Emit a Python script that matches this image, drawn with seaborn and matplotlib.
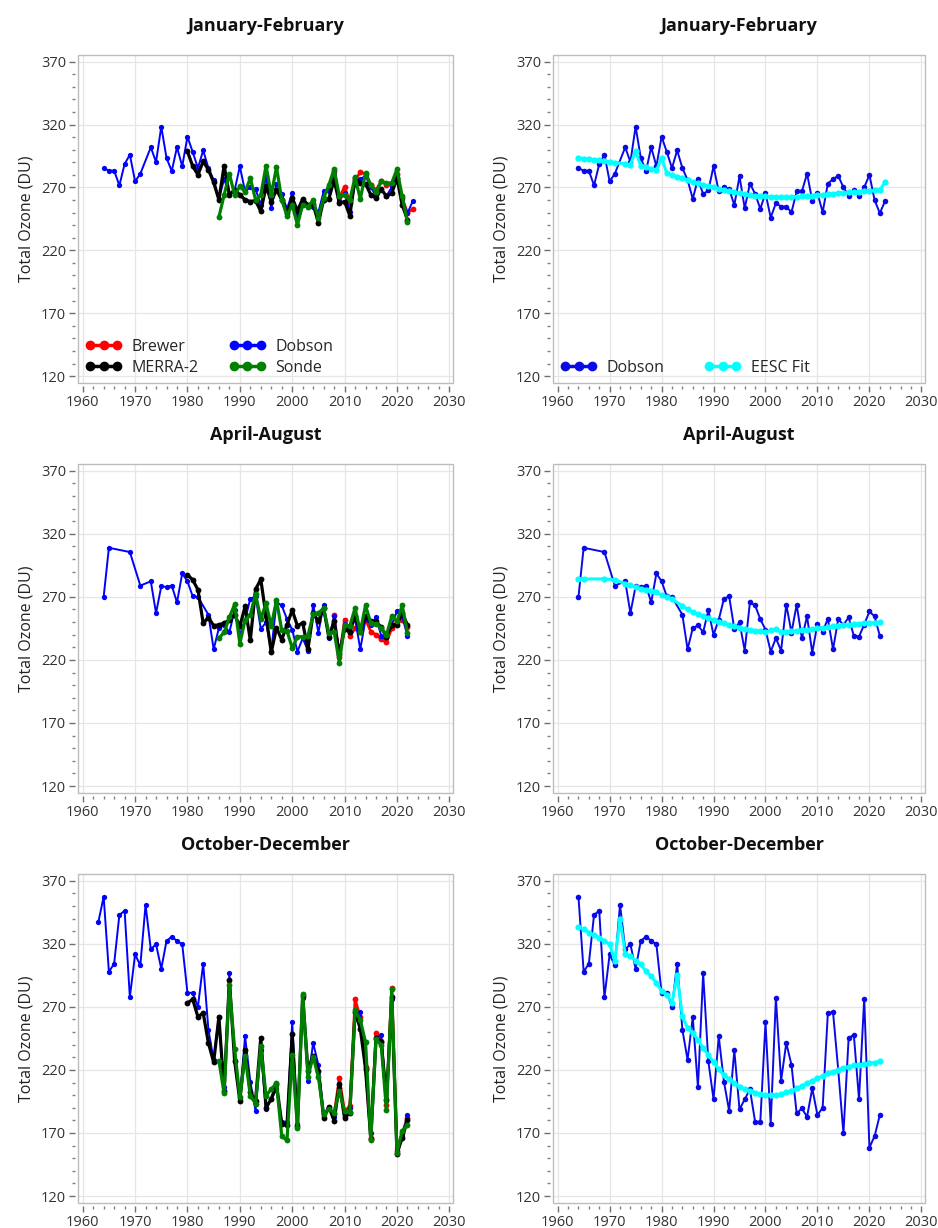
import matplotlib
matplotlib.use("Agg")
import matplotlib.pyplot as plt
from matplotlib.lines import Line2D
from matplotlib.patches import Rectangle
from matplotlib.ticker import MultipleLocator
import seaborn as sns

# ---------------- DATA ----------------
# January-February
jf_dobson_years = list(range(1964, 1972)) + list(range(1973, 2024))
jf_dobson = [285.4, 283.3, 283.3, 271.6, 288.6, 296.0, 274.8, 280.9,
             301.9, 290.2, 318.4, 293.4, 283.0, 302.0, 286.8, 310.4, 298.2, 285.4,
             299.5, 285.4, 276.0, 261.0, 276.6, 264.7, 267.6, 286.8, 266.8, 270.0,
             268.7, 256.0, 278.8, 253.5, 273.0, 265.0, 253.0, 265.5, 246.0, 257.5,
             254.8, 254.8, 250.3, 266.8, 266.8, 281.0, 259.6, 265.5, 250.3, 273.0,
             276.6, 279.3, 270.0, 263.4, 268.0, 263.4, 270.0, 280.0, 260.0, 249.5, 259.0]
jf_eesc = [293.5, 293.0, 292.6, 292.2, 291.6, 291.0, 290.4, 289.8,
           288.8, 288.2, 299.0, 286.8, 286.0, 284.8, 283.5, 293.4, 281.4, 280.0,
           278.6, 277.2, 275.8, 274.4, 273.2, 272.0, 271.0, 270.0, 269.0, 268.0,
           267.0, 266.0, 265.2, 264.5, 264.0, 263.5, 263.0, 262.8, 262.5, 262.3,
           262.2, 262.2, 262.3, 262.5, 262.8, 263.2, 263.5, 264.0, 264.3, 264.7,
           265.0, 265.3, 265.6, 266.0, 266.3, 266.6, 267.0, 267.3, 267.6, 268.0, 274.0]
jf_merra_years = list(range(1980, 2023))
jf_merra = [298.7, 286.8, 280.1, 290.7, 284.1, 274.0, 260.2, 287.3, 264.1, 268.1,
            264.1, 260.2, 258.8, 259.6, 250.9, 270.8, 258.8, 268.1, 260.2, 250.0,
            261.5, 251.6, 260.7, 256.2, 256.5, 242.0, 260.2, 261.0, 276.0, 257.5,
            258.8, 247.4, 277.4, 273.5, 273.0, 264.0, 261.5, 268.7, 262.8, 265.5,
            277.4, 256.2, 244.2]
jf_sonde_years = list(range(1986, 2023))
jf_sonde = [246.3, 264.0, 280.9, 264.1, 270.8, 266.5, 277.4, 260.2, 264.0, 287.3,
            264.1, 286.2, 260.2, 247.4, 256.2, 240.2, 256.2, 254.6, 260.0, 245.5,
            261.5, 272.0, 284.6, 262.8, 264.0, 260.0, 278.2, 260.7, 281.4, 272.0,
            266.0, 274.8, 273.5, 273.5, 284.6, 262.8, 242.9]
jf_brewer_years = list(range(2008, 2024))
jf_brewer = [283.0, 262.0, 270.5, 258.0, 276.0, 282.0, 281.0, 272.0, 268.0, 275.0,
             272.0, 272.0, 281.0, 261.5, 250.0, 252.7]

# April-August
aa_dobson_years = [1964, 1965, 1969, 1971] + list(range(1973, 1983)) + list(range(1984, 2023))
aa_dobson = [270.0, 308.9, 305.5, 278.9,
             282.3, 257.1, 278.4, 277.8, 278.9, 265.6, 288.5, 282.3, 270.4, 269.9,
             255.8, 228.4, 245.2, 247.3, 242.0, 259.2, 239.9, 251.8, 268.5, 270.4,
             244.6, 249.7, 227.4, 265.6, 263.2, 252.3, 244.0, 226.6, 237.2, 227.4,
             263.8, 241.7, 263.8, 237.2, 254.5, 225.8, 248.6, 242.5, 252.6, 228.4,
             252.3, 247.8, 253.7, 239.1, 238.5, 248.0, 258.4, 254.5, 239.1]
aa_eesc = [284.2, 284.2, 284.2, 283.5,
           280.5, 279.0, 277.5, 276.5, 275.8, 275.0, 273.5, 271.5, 269.5, 268.0,
           263.0, 260.0, 258.0, 256.0, 254.5, 253.0, 251.8, 250.3, 249.0, 247.8,
           246.5, 245.5, 244.5, 243.8, 243.2, 242.6, 242.0, 243.5, 244.5, 242.5,
           242.5, 242.8, 243.2, 243.6, 244.0, 244.5, 245.0, 245.5, 246.0, 246.5,
           247.0, 247.5, 248.0, 248.3, 248.6, 249.0, 249.3, 249.6, 249.8]
aa_merra_years = list(range(1980, 2023))
aa_merra = [287.5, 283.5, 275.6, 249.1, 253.6, 247.2, 247.8, 249.1, 251.7, 255.8,
            246.5, 262.4, 235.6, 276.0, 283.8, 255.0, 226.0, 245.5, 235.9, 247.8,
            259.4, 247.0, 249.4, 228.5, 257.1, 250.5, 261.0, 238.0, 250.5, 224.7,
            244.4, 242.5, 255.0, 242.5, 255.0, 250.5, 250.5, 245.7, 238.5, 247.8,
            247.8, 257.1, 247.8]
aa_sonde_years = list(range(1986, 2023))
aa_sonde = [237.2, 241.8, 253.7, 264.0, 233.0, 251.7, 255.7, 272.3, 252.4, 265.0,
            246.8, 267.4, 243.5, 243.2, 229.3, 238.5, 238.3, 239.2, 256.0, 257.1,
            261.0, 241.2, 242.5, 217.8, 247.8, 247.0, 261.0, 242.5, 263.2, 249.2,
            248.6, 245.2, 239.9, 254.5, 250.5, 263.2, 241.7]
aa_brewer_years = list(range(2008, 2023))
aa_brewer = [255.8, 222.0, 251.8, 239.0, 245.0, 246.0, 252.0, 242.5, 240.0, 236.4,
             234.0, 245.0, 250.0, 252.0, 246.0]

# October-December
od_dobson_years = list(range(1964, 2023))
od_dobson = [357.3, 297.8, 304.2, 342.9, 346.1, 277.6, 311.6, 302.8, 350.9, 315.6,
             319.6, 300.2, 322.2, 325.7, 322.2, 319.6, 281.1, 281.1, 270.0, 304.2,
             251.9, 228.0, 261.7, 206.2, 296.5, 226.7, 196.7, 246.6, 210.7, 187.6,
             235.4, 188.7, 196.7, 204.6, 178.9, 178.9, 257.7, 177.5, 277.1, 211.5,
             241.3, 224.0, 185.5, 189.5, 182.8, 205.4, 184.2, 190.0, 265.1, 265.7,
             220.0, 169.6, 245.2, 247.9, 196.7, 276.6, 158.4, 167.5, 184.2]
od_dobson_1963 = 337.5
od_eesc = [333.4, 331.5, 328.9, 327.0, 324.9, 322.2, 319.6, 306.3, 339.5, 312.1,
           310.3, 306.3, 303.6, 298.3, 294.3, 289.0, 282.4, 279.7, 273.1, 294.9,
           262.5, 253.2, 249.2, 243.9, 237.3, 232.0, 225.9, 220.5, 216.0, 212.6,
           209.4, 206.7, 204.6, 203.6, 202.0, 200.9, 200.1, 200.1, 200.1, 200.9,
           202.2, 203.6, 205.4, 207.3, 209.4, 211.5, 213.4, 215.2, 217.4, 218.7,
           220.0, 221.3, 222.7, 223.5, 224.0, 224.8, 225.5, 225.8, 226.9]
od_merra_years = list(range(1980, 2023))
od_merra = [273.1, 275.9, 262.0, 265.2, 241.3, 226.1, 262.0, 203.0, 291.3, 227.4,
            195.5, 236.0, 202.2, 195.5, 245.5, 190.2, 196.9, 208.8, 177.4, 176.0,
            248.2, 175.6, 278.5, 219.5, 231.4, 219.5, 181.7, 190.8, 179.6, 208.8,
            181.7, 186.2, 266.0, 252.7, 221.0, 165.6, 245.2, 242.5, 196.0, 278.0,
            153.5, 166.3, 180.0]
od_sonde_years = list(range(1986, 2023))
od_sonde = [227.4, 201.4, 287.3, 236.8, 198.2, 231.4, 199.5, 193.3, 238.6, 199.5,
            204.8, 209.4, 167.6, 164.1, 232.2, 174.3, 280.1, 214.7, 230.6, 214.1,
            184.9, 188.9, 186.2, 203.5, 187.5, 187.0, 267.3, 259.4, 242.0, 164.1,
            244.7, 239.4, 188.0, 283.8, 154.3, 171.6, 176.1]
od_brewer_years = list(range(2008, 2023))
od_brewer = [185.0, 213.6, 187.0, 191.5, 275.9, 262.0, 222.6, 166.0, 249.3, 243.0,
             192.0, 284.6, 156.0, 170.0, 182.0]

titles = ["January-February", "April-August", "October-December"]
ylabel = "Total Ozone (DU)"
yticks = [120, 170, 220, 270, 320, 370]
xticks = [1960, 1970, 1980, 1990, 2000, 2010, 2020, 2030]

# ---------------- STYLE ----------------
sns.set_theme(style="white")
plt.rcParams['font.family'] = ['Open Sans', 'DejaVu Sans']

C_BREWER, C_MERRA, C_DOBSON, C_SONDE, C_EESC = "#ff0000", "#000000", "#0000ff", "#008000", "#00ffff"
C_DOBSON_R = "#0a0ae6"

fig = plt.figure(figsize=(9.38, 12.28), dpi=100)
W, H = 938.0, 1228.0
rows = [(55, 383), (464, 793), (874, 1203)]
cols = [(78, 453), (553, 925)]


def make_ax(r, c):
    (t, b), (l, rr) = rows[r], cols[c]
    return fig.add_axes([l / W, 1 - b / H, (rr - l) / W, (b - t) / H])


def style_ax(ax, title):
    ax.set_xlim(1959.1, 2030.7)
    ax.set_ylim(114.5, 375.3)
    ax.set_xticks(xticks)
    ax.set_yticks(yticks)
    ax.xaxis.set_minor_locator(MultipleLocator(2))
    ax.yaxis.set_minor_locator(MultipleLocator(10))
    ax.grid(True, which='major', color='#e6e6e6', lw=0.9)
    ax.set_axisbelow(True)
    for s in ['left', 'bottom']:
        ax.spines[s].set_position(('outward', 2))
        ax.spines[s].set_color('none')
    for s in ['top', 'right']:
        ax.spines[s].set_color('none')
    ax.add_patch(Rectangle((0, 0), 1, 1, transform=ax.transAxes, fill=False,
                           edgecolor='#bdbdbd', lw=1.0, clip_on=False, zorder=5))
    ax.tick_params(which='major', direction='out', length=4.5, width=1.0,
                   color='#707070', labelsize=10.5, labelcolor='#333333', pad=2,
                   bottom=True, left=True)
    ax.tick_params(which='minor', direction='out', length=2.5, width=1.0,
                   color='#808080', bottom=True, left=True)
    ax.set_title(title, fontsize=13, fontweight='bold', pad=17, color='#111111')
    ax.set_ylabel(ylabel, fontsize=11.5, color='#222222', labelpad=5)
    ax.set_xlabel("")


def series(ax, years, vals, color, lw, ms, z):
    sns.lineplot(x=years, y=vals, ax=ax, color=color, lw=lw, marker='o',
                 markersize=ms, markeredgewidth=0, zorder=z, legend=False,
                 estimator=None)


left_data = [
    (jf_dobson_years, jf_dobson, jf_merra_years, jf_merra, jf_sonde_years, jf_sonde, jf_brewer_years, jf_brewer),
    (aa_dobson_years, aa_dobson, aa_merra_years, aa_merra, aa_sonde_years, aa_sonde, aa_brewer_years, aa_brewer),
    ([1963] + od_dobson_years, [od_dobson_1963] + od_dobson, od_merra_years, od_merra, od_sonde_years, od_sonde, od_brewer_years, od_brewer),
]
right_data = [
    (jf_dobson_years, jf_dobson, jf_eesc),
    (aa_dobson_years, aa_dobson, aa_eesc),
    (od_dobson_years, od_dobson, od_eesc),
]

for r in range(3):
    axl = make_ax(r, 0)
    dy, dv, my, mv, sy, sv, by, bv = left_data[r]
    series(axl, by, bv, C_BREWER, 2.0, 4.2, 2)
    series(axl, dy, dv, C_DOBSON, 1.4, 3.8, 3)
    series(axl, my, mv, C_MERRA, 2.3, 4.2, 4)
    series(axl, sy, sv, C_SONDE, 2.3, 4.2, 5)
    style_ax(axl, titles[r])

    axr = make_ax(r, 1)
    ry, rv, re = right_data[r]
    series(axr, ry, rv, C_DOBSON_R, 1.4, 4.0, 3)
    series(axr, ry, re, C_EESC, 2.2, 4.5, 4)
    style_ax(axr, titles[r])

    if r == 0:
        def h(c):
            return Line2D([0], [0], color=c, lw=2.5, marker='o', ms=7, markeredgewidth=0)
        axl.legend([h(C_BREWER), h(C_MERRA), h(C_DOBSON), h(C_SONDE)],
                   ["Brewer", "MERRA-2", "Dobson", "Sonde"], ncol=2, frameon=False,
                   loc='lower left', bbox_to_anchor=(0.0, 0.0), fontsize=11.5,
                   numpoints=3, handlelength=2.3, handletextpad=0.6,
                   columnspacing=1.9, labelspacing=0.3, borderaxespad=0.05)
        axr.legend([h(C_DOBSON_R), h(C_EESC)], ["Dobson", "EESC Fit"], ncol=2,
                   frameon=False, loc='lower left', bbox_to_anchor=(0.0, 0.0),
                   fontsize=11.5, numpoints=3, handlelength=2.3, handletextpad=0.6,
                   columnspacing=2.5, borderaxespad=0.05)

fig.savefig("out.png", dpi=100)
